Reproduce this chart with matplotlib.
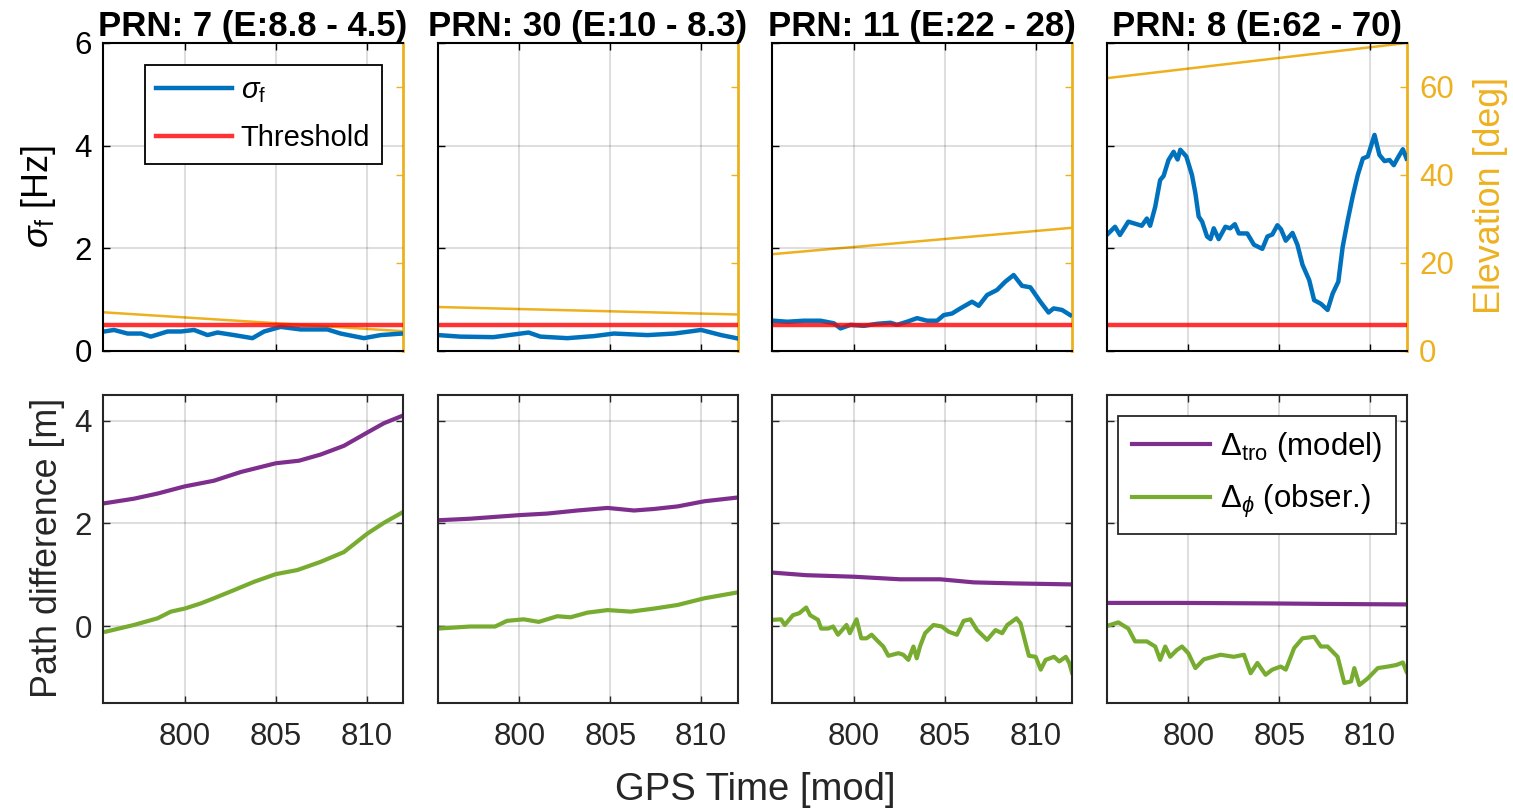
import matplotlib
matplotlib.use('Agg')
import matplotlib.pyplot as plt

plt.rcParams['font.family'] = ['Liberation Sans', 'DejaVu Sans']
plt.rcParams['mathtext.fontset'] = 'custom'
plt.rcParams['mathtext.rm'] = 'Liberation Sans'
plt.rcParams['mathtext.it'] = 'Liberation Sans:italic'
plt.rcParams['mathtext.bf'] = 'Liberation Sans:bold'
plt.rcParams['mathtext.fallback'] = 'stixsans'

# ---------------- data ----------------
prns = ['7', '30', '11', '8']
elev_start = [8.8, 10, 22, 62]
elev_end = [4.5, 8.3, 28, 70]
t_span = [795.5, 812.0]
threshold = 0.5

# sigma_f [Hz]
sig_t1 = [795.57, 796.1, 796.85, 797.6, 798.13, 799.05, 799.78, 800.51, 801.25, 801.8,
          802.71, 803.72, 804.36, 805.27, 806.37, 807.84, 808.57, 809.85, 810.77, 811.96]
sig_v1 = [0.38, 0.41, 0.34, 0.34, 0.28, 0.38, 0.38, 0.41, 0.31, 0.36,
          0.31, 0.25, 0.38, 0.47, 0.42, 0.42, 0.34, 0.25, 0.31, 0.34]
sig_t2 = [795.54, 796.74, 798.58, 800.51, 801.16, 802.64, 804.1, 805.2, 807.06, 808.53,
          810.0, 811.1, 811.93]
sig_v2 = [0.31, 0.28, 0.27, 0.36, 0.28, 0.25, 0.29, 0.34, 0.31, 0.34,
          0.41, 0.31, 0.25]
sig_t3 = [795.6, 796.34, 797.25, 798.17, 798.9, 799.27, 799.82, 800.55, 801.29, 802.02,
          802.38, 802.93, 803.48, 804.03, 804.58, 804.95, 805.4, 805.86, 806.5, 806.87,
          807.33, 807.88, 808.33, 808.79, 809.25, 809.71, 810.26, 810.71, 810.99, 811.45,
          811.9]
sig_v3 = [0.59, 0.57, 0.59, 0.59, 0.54, 0.44, 0.51, 0.49, 0.53, 0.55,
          0.51, 0.57, 0.64, 0.59, 0.59, 0.70, 0.73, 0.83, 0.96, 0.88,
          1.09, 1.19, 1.35, 1.48, 1.27, 1.24, 0.96, 0.75, 0.83, 0.80,
          0.70]
sig_t4 = [795.6, 795.97, 796.24, 796.7, 796.98, 797.44, 797.72, 797.9, 798.18, 798.45,
          798.64, 798.91, 799.19, 799.41, 799.56, 799.89, 800.2, 800.39, 800.57, 800.76,
          801.03, 801.22, 801.4, 801.67, 802.04, 802.3, 802.56, 802.78, 803.24, 803.61,
          804.07, 804.35, 804.62, 804.9, 805.1, 805.36, 805.73, 806.0, 806.28, 806.65,
          806.92, 807.29, 807.66, 807.94, 808.25, 808.49, 808.77, 809.04, 809.32, 809.6,
          809.87, 810.24, 810.51, 810.79, 811.07, 811.3, 811.5, 811.8, 812.0]
sig_v4 = [2.29, 2.42, 2.26, 2.52, 2.49, 2.44, 2.58, 2.44, 2.81, 3.33,
          3.41, 3.72, 3.88, 3.73, 3.92, 3.79, 3.43, 3.07, 2.62, 2.52,
          2.23, 2.18, 2.39, 2.18, 2.42, 2.39, 2.47, 2.29, 2.29, 2.07,
          1.99, 2.23, 2.27, 2.45, 2.37, 2.15, 2.30, 2.07, 1.68, 1.38,
          0.99, 0.92, 0.80, 1.12, 1.35, 2.03, 2.55, 3.01, 3.43, 3.75,
          3.79, 4.21, 3.82, 3.70, 3.72, 3.62, 3.75, 3.93, 3.75]

# Delta_tro (model) [m]
tro_t1 = [795.57, 797.2, 798.5, 800.0, 801.6, 803.08, 805.0, 806.28, 807.47, 808.75,
          810.04, 810.95, 812.0]
tro_v1 = [2.39, 2.48, 2.58, 2.72, 2.83, 3.0, 3.17, 3.22, 3.34, 3.51,
          3.77, 3.95, 4.1]
tro_t2 = [795.54, 797.29, 800.0, 801.53, 803.19, 804.85, 806.31, 807.42, 808.71, 810.18,
          811.93]
tro_v2 = [2.06, 2.09, 2.16, 2.19, 2.25, 2.30, 2.25, 2.28, 2.33, 2.43,
          2.50]
tro_t3 = [795.54, 797.38, 800.0, 802.54, 804.75, 806.59, 808.8, 812.0]
tro_v3 = [1.04, 0.99, 0.96, 0.91, 0.91, 0.85, 0.83, 0.81]
tro_t4 = [795.5, 799.5, 804.5, 807.5, 812.0]
tro_v4 = [0.45, 0.45, 0.44, 0.43, 0.42]

# Delta_phi (observed) [m]
phi_t1 = [795.66, 797.2, 798.5, 799.23, 800.0, 800.88, 801.6, 802.71, 803.8, 805.0,
          806.19, 807.47, 808.75, 810.04, 810.95, 812.0]
phi_v1 = [-0.11, 0.02, 0.15, 0.28, 0.34, 0.44, 0.54, 0.70, 0.86, 1.01,
          1.09, 1.25, 1.44, 1.80, 2.01, 2.22]
phi_t2 = [795.54, 797.29, 798.67, 799.32, 800.24, 801.07, 802.08, 802.82, 803.74, 804.85,
          806.13, 807.42, 808.71, 810.18, 811.93]
phi_v2 = [-0.05, -0.01, -0.01, 0.10, 0.13, 0.08, 0.19, 0.17, 0.26, 0.31,
          0.28, 0.34, 0.41, 0.54, 0.65]
phi_t3 = [795.54, 796.0, 796.2, 796.65, 797.0, 797.38, 797.6, 798.03, 798.2, 798.58,
          798.86, 799.13, 799.6, 799.78, 800.15, 800.41, 800.7, 800.98, 801.25, 801.62,
          801.9, 802.45, 802.72, 803.0, 803.28, 803.46, 803.64, 803.92, 804.38, 804.84,
          805.21, 805.67, 806.04, 806.41, 806.78, 807.33, 807.79, 808.16, 808.44, 808.95,
          809.17, 809.45, 809.63, 810.0, 810.28, 810.55, 811.01, 811.3, 811.66, 811.85,
          812.0]
phi_v3 = [0.12, 0.13, 0.02, 0.21, 0.25, 0.36, 0.21, 0.12, -0.05, -0.05,
          -0.01, -0.17, 0.02, -0.14, 0.13, -0.24, -0.24, -0.17, -0.27, -0.40,
          -0.58, -0.53, -0.56, -0.66, -0.40, -0.63, -0.40, -0.14, 0.02, -0.01,
          -0.11, -0.17, 0.10, 0.13, -0.08, -0.27, -0.08, -0.14, 0.02, 0.15,
          0.05, -0.34, -0.58, -0.60, -0.85, -0.66, -0.60, -0.69, -0.60, -0.72,
          -0.91]
phi_t4 = [795.51, 796.15, 796.7, 797.07, 797.72, 798.18, 798.45, 798.73, 799.0, 799.36,
          799.65, 800.0, 800.39, 800.85, 801.77, 802.5, 803.06, 803.43, 803.8, 804.25,
          804.62, 805.08, 805.36, 805.82, 806.28, 806.92, 807.29, 807.66, 808.21, 808.58,
          808.95, 809.13, 809.41, 809.87, 810.42, 810.98, 811.44, 811.8, 812.0]
phi_v4 = [0.0, 0.07, -0.05, -0.30, -0.30, -0.40, -0.66, -0.40, -0.60, -0.47,
          -0.40, -0.53, -0.82, -0.65, -0.56, -0.60, -0.56, -0.92, -0.72, -0.95,
          -0.85, -0.79, -0.85, -0.43, -0.24, -0.21, -0.40, -0.40, -0.60, -1.11,
          -1.08, -0.82, -1.15, -1.02, -0.82, -0.79, -0.76, -0.71, -0.89]

sig_t = [sig_t1, sig_t2, sig_t3, sig_t4]
sig_v = [sig_v1, sig_v2, sig_v3, sig_v4]
tro_t = [tro_t1, tro_t2, tro_t3, tro_t4]
tro_v = [tro_v1, tro_v2, tro_v3, tro_v4]
phi_t = [phi_t1, phi_t2, phi_t3, phi_t4]
phi_v = [phi_v1, phi_v2, phi_v3, phi_v4]

x_ticks = [800, 805, 810]
sig_ticks = [0, 2, 4, 6]
elev_ticks = [0, 20, 40, 60]
path_ticks = [0, 2, 4]

# ---------------- style ----------------
BLUE = '#0072BD'
RED = '#FF0000'
ORANGE = '#EDB120'
PURPLE = '#7E2F8E'
GREEN = '#77AC30'
DARK = '#262626'
TICK_FS = 22.5
LABEL_FS = 25.8
XLABEL_FS = 27.5
TITLE_FS = 25
LEG_FS_TOP = 21
LEG_FS_BOT = 22.5

W, H = 1513, 810
fig = plt.figure(figsize=(W / 100, H / 100), dpi=100)

lefts = [103, 437.5, 772, 1106.5]
ax_w = 300
top_row = (43, 351)
bot_row = (395, 703)


def rect(left, row):
    return [left / W, (H - row[1]) / H, ax_w / W, (row[1] - row[0]) / H]


for i in range(4):
    # ---------- top row ----------
    ax = fig.add_axes(rect(lefts[i], top_row))
    ax2 = ax.twinx()
    ax.set_zorder(ax2.get_zorder() + 1)
    ax.patch.set_visible(False)

    ax2.plot(t_span, [elev_start[i], elev_end[i]], color=ORANGE, lw=1.8)
    ax2.set_ylim(0, 70)
    ax2.set_yticks(elev_ticks)
    ax2.tick_params(axis='y', direction='in', length=5, width=1, colors=ORANGE,
                    labelsize=TICK_FS, pad=9, labelright=(i == 3))
    for s in ['left', 'top', 'bottom']:
        ax2.spines[s].set_visible(False)
    ax2.spines['right'].set_color(ORANGE)
    ax2.spines['right'].set_linewidth(2)

    l1, = ax.plot(sig_t[i], sig_v[i], color=BLUE, lw=3.2, label=r'$\sigma_{\mathrm{f}}$')
    l2, = ax.plot(t_span, [threshold, threshold], color=RED, lw=3.2, alpha=0.8,
                  label='Threshold')
    ax.set_xlim(t_span)
    ax.set_ylim(0, 6)
    ax.set_xticks(x_ticks)
    ax.set_yticks(sig_ticks)
    ax.grid(True, color='black', alpha=0.13, lw=1.5)
    ax.tick_params(axis='both', direction='in', length=5, width=1, colors='black',
                   labelsize=TICK_FS, top=True, right=False, labelbottom=False,
                   labelleft=(i == 0))
    ax.tick_params(axis='y', pad=8)
    ax.spines['right'].set_visible(False)
    for s in ['left', 'top', 'bottom']:
        ax.spines[s].set_color('black')
        ax.spines[s].set_linewidth(1.5)
    prn_title = f"PRN: {prns[i]} (E:{elev_start[i]:g} - {elev_end[i]:g})"
    ax.set_title(prn_title, fontsize=TITLE_FS, fontweight='bold', pad=4)
    if i == 0:
        leg = ax.legend(handles=[l1, l2], loc='upper right', bbox_to_anchor=(0.93, 0.929),
                        borderaxespad=0, fontsize=LEG_FS_TOP, fancybox=False, framealpha=1,
                        edgecolor='black', handlelength=2.6, handletextpad=0.3,
                        borderpad=0.4, labelspacing=0.65)
        leg.get_frame().set_linewidth(1.3)

    # ---------- bottom row ----------
    bx = fig.add_axes(rect(lefts[i], bot_row))
    p1, = bx.plot(tro_t[i], tro_v[i], color=PURPLE, lw=3,
                  label=r'$\Delta_{\mathrm{tro}}$ (model)')
    p2, = bx.plot(phi_t[i], phi_v[i], color=GREEN, lw=3,
                  label=r'$\Delta_{\phi}$ (obser.)')
    bx.set_xlim(t_span)
    bx.set_ylim(-1.5, 4.5)
    bx.set_xticks(x_ticks)
    bx.set_yticks(path_ticks)
    bx.grid(True, color='black', alpha=0.13, lw=1.5)
    bx.tick_params(axis='both', direction='in', length=5, width=1, colors=DARK,
                   labelsize=TICK_FS, top=True, right=True, labelleft=(i == 0))
    bx.tick_params(axis='x', pad=14)
    bx.tick_params(axis='y', pad=8)
    for s in bx.spines.values():
        s.set_color(DARK)
        s.set_linewidth(1.5)
    if i == 3:
        leg = bx.legend(handles=[p1, p2], loc='upper right', bbox_to_anchor=(0.965, 0.932),
                        borderaxespad=0, fontsize=LEG_FS_BOT, fancybox=False, framealpha=1,
                        edgecolor=DARK, handlelength=2.5, handletextpad=0.3,
                        borderpad=0.45, labelspacing=0.6)
        leg.get_frame().set_linewidth(1.3)

# ---------------- axis labels ----------------
fig.text(38 / W, 1 - 197 / H, r'$\sigma_{\mathrm{f}}$ [Hz]', rotation=90, ha='center',
         va='center', fontsize=LABEL_FS, color='black')
fig.text(48 / W, 1 - 548 / H, 'Path difference [m]', rotation=90, ha='center',
         va='center', fontsize=LABEL_FS, color=DARK)
fig.text(1490 / W, 1 - 195 / H, 'Elevation [deg]', rotation=90, ha='center',
         va='center', fontsize=LABEL_FS, color=ORANGE)
fig.text(755 / W, 1 - 790 / H, 'GPS Time [mod]', ha='center', va='center',
         fontsize=XLABEL_FS, color=DARK)

fig.savefig('out.png', dpi=100, facecolor='white')
